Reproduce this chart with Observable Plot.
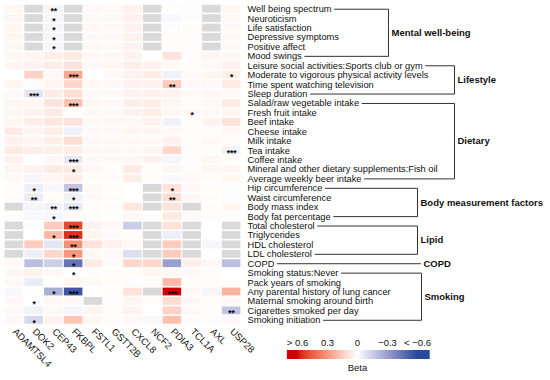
<!DOCTYPE html>
<html><head><meta charset="utf-8">
<script src="https://cdn.jsdelivr.net/npm/d3@7"></script>
<script src="https://cdn.jsdelivr.net/npm/@observablehq/plot@0.6"></script>
<style>
body{margin:0;background:#fff;font-family:"Liberation Sans",Arial,sans-serif}
#wrap{position:relative;width:550px;height:380px}
#main svg,#legend svg{display:block}
#legend{position:absolute;left:267px;top:330px}
</style></head><body><div id="wrap"><div id="main"></div><div id="legend"></div></div>
<script>
// ---------------- data ----------------
const genes = ["ADAMTSL4","DOK2","CEP43","FKBPL","FSTL1","GSTT2B","CXCL8","NCF2","PDIA3","TCL1A","AXL","USP28"];
const traits = [
  "Well being spectrum","Neuroticism","Life satisfaction","Depressive symptoms","Positive affect","Mood swings",
  "Leisure social activities:Sports club or gym","Moderate to vigorous physical activity levels","Time spent watching television","Sleep duration",
  "Salad/raw vegetable intake","Fresh fruit intake","Beef intake","Cheese intake","Milk intake","Tea intake","Coffee intake",
  "Mineral and other dietary supplements:Fish oil","Average weekly beer intake",
  "Hip circumference","Waist circumference","Body mass index","Body fat percentage",
  "Total cholesterol","Triglycerides","HDL cholesterol","LDL cholesterol",
  "COPD",
  "Smoking status:Never","Pack years of smoking","Any parental history of lung cancer","Maternal smoking around birth","Cigarettes smoked per day","Smoking initiation"
];
// beta per trait (row), one value per gene (column); null = not available
const beta = [
  [0.03, null, -0.03, null, 0.02, 0.02, 0.04, null, 0.01, 0.01, null, 0.03],
  [0.03, null, -0.03, null, 0.02, 0.02, 0.04, null, -0.02, 0.01, null, 0.02],
  [0.03, null, -0.03, null, 0.02, 0.02, 0.04, null, -0.01, 0.01, null, 0.02],
  [0.03, null, -0.03, null, 0.02, 0.02, 0.04, null, 0.01, 0.01, null, 0.02],
  [0.03, null, -0.03, null, 0.02, 0.02, 0.04, null, 0.01, 0.01, null, 0.02],
  [0.03, 0.03, 0.05, 0.06, 0.02, 0.02, 0.04, 0.0, 0.08, 0.01, 0.03, 0.02],
  [0.03, 0.04, 0.05, 0.08, 0.02, 0.03, 0.05, 0.04, 0.02, 0.01, 0.02, 0.04],
  [0.0, 0.13, 0.02, 0.25, 0.0, 0.02, 0.04, 0.05, -0.04, 0.02, 0.03, 0.05],
  [0.03, -0.01, 0.03, 0.12, 0.02, 0.02, 0.04, 0.04, 0.15, 0.02, 0.02, 0.06],
  [0.02, -0.08, 0.06, 0.1, 0.02, 0.02, 0.04, 0.04, 0.04, 0.02, 0.03, 0.02],
  [0.03, 0.03, 0.08, 0.18, 0.03, 0.02, 0.05, 0.05, 0.03, 0.01, 0.02, 0.06],
  [0.03, 0.04, 0.06, -0.01, 0.02, 0.02, 0.04, 0.05, 0.03, 0.02, 0.02, 0.03],
  [0.03, 0.05, 0.07, 0.08, 0.02, 0.03, 0.02, 0.04, -0.04, 0.01, 0.04, 0.08],
  [0.06, 0.03, 0.05, -0.04, 0.02, 0.02, 0.03, 0.03, 0.02, 0.01, 0.01, 0.02],
  [0.04, 0.03, 0.05, 0.1, 0.02, 0.02, 0.02, 0.02, 0.04, 0.01, 0.02, 0.01],
  [0.06, 0.05, 0.05, 0.05, 0.02, 0.02, 0.02, 0.03, 0.12, 0.01, 0.01, -0.04],
  [0.04, 0.0, 0.02, -0.07, 0.02, 0.02, 0.02, 0.04, -0.03, 0.01, 0.03, 0.01],
  [0.03, 0.04, 0.06, 0.06, 0.02, 0.01, 0.06, 0.01, 0.03, 0.01, 0.03, 0.03],
  [0.02, -0.03, 0.03, 0.05, 0.01, 0.01, 0.05, 0.01, -0.02, 0.02, 0.01, 0.03],
  [0.01, -0.05, -0.02, -0.18, 0.02, 0.01, 0.0, null, 0.08, 0.02, 0.01, -0.01],
  [0.01, -0.06, 0.01, -0.04, 0.02, 0.01, 0.0, null, 0.1, 0.02, 0.01, -0.01],
  [null, -0.03, -0.04, -0.07, 0.01, 0.01, 0.07, null, 0.08, null, 0.01, 0.03],
  [0.01, -0.02, -0.03, 0.01, 0.01, 0.0, 0.02, 0.01, 0.06, 0.02, 0.01, 0.01],
  [null, -0.01, 0.15, 0.5, 0.04, 0.02, -0.15, null, 0.08, null, 0.0, null],
  [null, 0.0, 0.2, 0.55, 0.03, 0.02, 0.01, null, -0.05, null, 0.0, null],
  [null, 0.15, -0.08, 0.32, 0.08, 0.04, 0.02, null, 0.15, null, -0.03, null],
  [null, -0.05, 0.12, 0.3, 0.02, 0.02, -0.1, null, 0.15, null, 0.0, null],
  [0.02, -0.2, -0.15, -0.45, 0.06, 0.01, 0.12, 0.12, -0.3, 0.05, 0.02, -0.2],
  [0.03, 0.04, 0.02, 0.0, 0.01, 0.01, 0.01, 0.03, 0.02, 0.02, 0.01, 0.0],
  [0.02, -0.06, 0.0, 0.03, 0.02, 0.01, -0.01, 0.01, 0.2, 0.01, 0.01, 0.01],
  [-0.02, 0.0, -0.25, -0.55, 0.0, 0.01, 0.08, null, 0.6, 0.02, -0.03, 0.22],
  [0.02, 0.0, 0.02, 0.02, null, 0.01, 0.03, 0.01, 0.1, 0.02, 0.01, 0.02],
  [0.02, -0.04, 0.02, -0.03, 0.03, 0.01, 0.04, 0.0, 0.13, 0.02, 0.01, -0.18],
  [0.02, -0.12, 0.04, 0.17, 0.03, 0.01, 0.02, -0.02, 0.18, 0.01, 0.01, 0.02]
];
// significance marks: [trait index, gene index, label]
const signif = [
  [0,2,"**"],[1,2,"*"],[2,2,"*"],[3,2,"*"],[4,2,"*"],
  [7,3,"***"],[7,11,"*"],[8,8,"**"],[9,1,"***"],[10,3,"***"],[11,9,"*"],
  [15,11,"***"],[16,3,"***"],[17,3,"*"],
  [19,1,"*"],[19,3,"***"],[19,8,"*"],
  [20,1,"**"],[20,3,"*"],[20,8,"**"],
  [21,2,"**"],[21,3,"***"],[22,2,"*"],
  [23,3,"***"],[24,2,"*"],[24,3,"***"],[25,3,"**"],[26,3,"*"],
  [27,3,"*"],[28,3,"*"],
  [30,2,"*"],[30,3,"***"],[30,8,"***"],
  [31,1,"*"],[32,11,"**"],[33,1,"*"]
];
const groupNames = ["Mental well-being","Lifestyle","Dietary","Body measurement factors","Lipid","COPD","Smoking"];
const groupFirst = [0,6,10,19,23,27,28];
const groupLast  = [5,9,18,22,26,27,33];
const legendTicks = [0.6,0.3,0,-0.3,-0.6];
const legendLabels = ["> 0.6","0.3","0","\u22120.3","< \u22120.6"];

// ---------------- layout ----------------
const W = 550, H = 380, X0 = 4, X1 = 241, Y0 = 4, Y1 = 324.5;
const bracketPx = [388, 454, 454, 417, 417, 420, 421];
const FONT = '"Liberation Sans", Arial, Helvetica, sans-serif';
const LABEL_SIZE = 9.3;
const pxToX = px => (px - X0) * genes.length / (X1 - X0);

const cells = [], naCells = [];
beta.forEach((row, i) => row.forEach((v, j) => (v == null ? naCells : cells).push({i, j, v})));
const stars = signif.map(([i, j, s]) => ({i, j, s}));

const ctx = document.createElement("canvas").getContext("2d");
ctx.font = `${LABEL_SIZE}px ${FONT}`;
const labelStart = X1 + 6;
const labelEnd = i => labelStart + ctx.measureText(traits[i]).width + 3;

const bracketPts = [];
groupNames.forEach((g, k) => {
  const a = groupFirst[k], b = groupLast[k], bx = bracketPx[k];
  if (a === b) {
    bracketPts.push({g, x: labelEnd(a), y: a + 0.5}, {g, x: bx, y: a + 0.5});
  } else {
    bracketPts.push({g, x: labelEnd(a), y: a + 0.5}, {g, x: bx, y: a + 0.5},
                    {g, x: bx, y: b + 0.5}, {g, x: labelEnd(b), y: b + 0.5});
  }
});
bracketPts.forEach(p => p.x = pxToX(p.x));
const groupLabels = groupNames.map((g, k) => ({g, x: pxToX(bracketPx[k] + 3), y: (groupFirst[k] + groupLast[k] + 1) / 2}));

const colorOpts = {type: "linear", domain: [-0.6, 0, 0.6], range: ["#2a4a9b", "#ffffff", "#d30000"], clamp: true, interpolate: "lab"};
const inset = {insetLeft: 0.6, insetRight: 0.6, insetTop: 0.8, insetBottom: 0.8};

const main = Plot.plot({
  width: W, height: H,
  marginLeft: X0, marginRight: W - X1, marginTop: Y0, marginBottom: H - Y1,
  x: {domain: [0, genes.length], axis: null},
  y: {domain: [0, traits.length], reverse: true, axis: null},
  color: colorOpts,
  style: {fontFamily: FONT, background: "white"},
  marks: [
    Plot.rect(cells, {x1: d => d.j, x2: d => d.j + 1, y1: d => d.i, y2: d => d.i + 1, fill: d => d.v, ...inset}),
    Plot.rect(naCells, {x1: d => d.j, x2: d => d.j + 1, y1: d => d.i, y2: d => d.i + 1, fill: "#d9d9d9", ...inset}),
    Plot.text(stars, {x: d => d.j + 0.5, y: d => d.i + 0.5, text: d => d.s, fontSize: 8.5, fontWeight: "bold", dy: 2.5, fill: "#000"}),
    Plot.text(traits, {x: genes.length, y: (d, i) => i + 0.5, text: d => d, textAnchor: "start", dx: 6, fontSize: LABEL_SIZE, fill: "#111"}),
    Plot.text(genes, {x: (d, i) => i + 0.5, y: traits.length, text: d => d, rotate: 45, textAnchor: "start", dy: 5, fontSize: 9.5, fill: "#111"}),
    Plot.line(bracketPts, {x: "x", y: "y", z: "g", stroke: "#333", strokeWidth: 1}),
    Plot.text(groupLabels, {x: "x", y: "y", text: "g", textAnchor: "start", fontWeight: "bold", fontSize: 9.5, fill: "#111"})
  ]
});
document.getElementById("main").appendChild(main);

const ramp = d3.range(0.7, -0.72, -0.005);
const legend = Plot.plot({
  width: 180, height: 50,
  marginLeft: 0, marginRight: 0, marginTop: 20, marginBottom: 21,
  x: {domain: [0.6, -0.6], range: [30, 150], axis: null},
  color: colorOpts,
  style: {fontFamily: FONT, background: "transparent"},
  marks: [
    Plot.ruleX(ramp, {x: d => d, stroke: d => d, strokeWidth: 1.3}),
    Plot.text(legendTicks, {x: d => d, text: (d, i) => legendLabels[i], frameAnchor: "top", dy: -11, fontSize: 9.5, fill: "#111"}),
    Plot.text(["Beta"], {x: 0, text: d => d, frameAnchor: "bottom", dy: 11, fontSize: 9.5, fill: "#111"})
  ]
});
document.getElementById("legend").appendChild(legend);
</script>
</body></html>
